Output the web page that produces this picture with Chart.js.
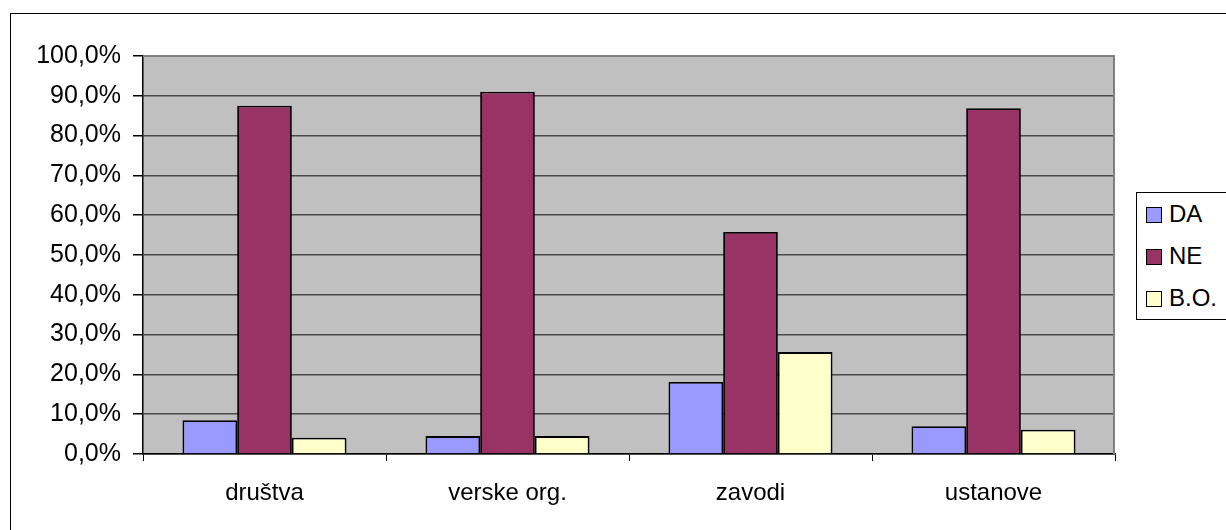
<!DOCTYPE html>
<html>
<head>
<meta charset="utf-8">
<script src="https://cdn.jsdelivr.net/npm/chart.js@4.4.1/dist/chart.umd.min.js"></script>
<style>
  html, body { margin: 0; padding: 0; background: #fff; }
  #wrap { position: relative; width: 1226px; height: 530px; overflow: hidden; font-family: "Liberation Sans", Arial, sans-serif; }
  #frame { position: absolute; left: 10px; top: 13px; width: 1400px; height: 700px; border: 1.5px solid #000; }
  #grafico { position: absolute; left: 0; top: 0; }
  #legenda { position: absolute; left: 1136px; top: 192px; width: 110px; height: 126px; border: 1px solid #000; background: #fff; }
  .leg-item { position: absolute; left: 9px; height: 24px; font-size: 24px; line-height: 24px; color: #000; white-space: nowrap; }
  .leg-item span { display: inline-block; width: 14px; height: 14px; border: 1px solid #000; margin-right: 7px; vertical-align: -1px; }
</style>
</head>
<body>
<div id="wrap">
  <div id="frame"></div>
  <canvas id="grafico" width="1226" height="530"></canvas>
  <div id="legenda"></div>
</div>
<script>
// ── Podatki ───────────────────────────────
const kategorije = ['društva', 'verske org.', 'zavodi', 'ustanove'];
const vrednostiDA = [8.5, 4.5, 18.1, 7.0];
const vrednostiNE = [87.5, 91.0, 55.8, 86.9];
const vrednostiBO = [4.1, 4.5, 25.6, 6.1];
const oznakeSerij = ['DA', 'NE', 'B.O.'];
const barve = ['#9999FF', '#993366', '#FFFFCC'];

// ── Ozadje in okvir risalne površine ──────
const ozadje = {
  id: 'ozadje',
  beforeDraw(chart) {
    const { ctx, chartArea: a } = chart;
    ctx.save();
    ctx.fillStyle = '#C0C0C0';
    ctx.fillRect(a.left, a.top, a.right - a.left, a.bottom - a.top);
    ctx.restore();
  },
  beforeDatasetsDraw(chart) {
    const { ctx, chartArea: a } = chart;
    ctx.save();
    ctx.strokeStyle = '#808080';
    ctx.lineWidth = 2;
    ctx.beginPath();
    ctx.moveTo(a.left, a.top);
    ctx.lineTo(a.right - 1, a.top);
    ctx.lineTo(a.right - 1, a.bottom);
    ctx.stroke();
    ctx.restore();
  }
};

const serije = [vrednostiDA, vrednostiNE, vrednostiBO];
const pisava = { family: '"Liberation Sans", Arial, sans-serif', size: 24 };

const chart = new Chart(document.getElementById('grafico').getContext('2d'), {
  type: 'bar',
  data: {
    labels: kategorije,
    datasets: serije.map((d, i) => ({
      label: oznakeSerij[i],
      data: d,
      backgroundColor: barve[i],
      borderColor: '#000',
      borderWidth: 1.8,
      categoryPercentage: 0.675,
      barPercentage: 1
    }))
  },
  options: {
    responsive: false,
    animation: false,
    layout: { padding: { left: 0, top: 56, right: 111, bottom: 0 } },
    plugins: { legend: { display: false }, tooltip: { enabled: false } },
    scales: {
      x: {
        afterFit: s => { s.height = 76; },
        grid: { drawOnChartArea: false, drawTicks: true, tickLength: 7, color: '#000', lineWidth: 1 },
        border: { color: '#000', width: 1.5 },
        ticks: { color: '#000', font: pisava, padding: 18 }
      },
      y: {
        min: 0, max: 100,
        afterFit: s => { s.width = 143; },
        grid: { color: '#4a4a4a', lineWidth: 1.5, tickLength: 10, tickColor: '#000' },
        border: { color: '#000', width: 1.5 },
        ticks: {
          stepSize: 10, color: '#000', font: { family: pisava.family, size: 25 }, padding: 12,
          callback: v => v.toFixed(1).replace('.', ',') + '%'
        }
      }
    }
  },
  plugins: [ozadje]
});

// ── Legenda ───────────────────────────────
const leg = document.getElementById('legenda');
chart.data.datasets.forEach((ds, i) => {
  const el = document.createElement('div');
  el.className = 'leg-item';
  el.style.top = (9 + i * 42) + 'px';
  el.innerHTML = '<span style="background:' + ds.backgroundColor + '"></span>' + ds.label;
  leg.appendChild(el);
});
</script>
</body>
</html>
